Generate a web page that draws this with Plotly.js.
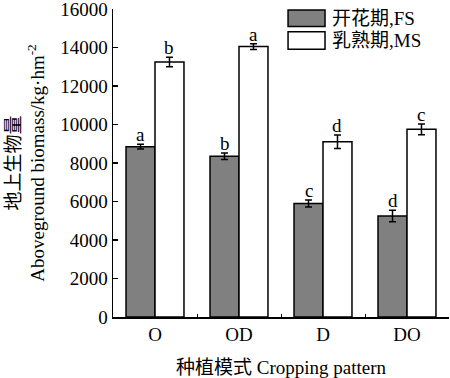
<!DOCTYPE html>
<html>
<head>
<meta charset="utf-8">
<script src="https://cdn.plot.ly/plotly-3.0.1.min.js"></script>
<style>body{margin:0;padding:0;background:#fff}#chart{width:450px;height:378px}</style>
</head>
<body>
<div id="chart"></div>
<script>
var categories = ["O", "OD", "D", "DO"];
var fsName = "开花期,FS";
var msName = "乳熟期,MS";
var fsValues = [8850, 8350, 5900, 5250];
var fsErrors = [120, 170, 180, 300];
var msValues = [13250, 14050, 9100, 9750];
var msErrors = [250, 150, 350, 280];
var fsLetters = ["a", "b", "c", "d"];
var msLetters = ["b", "a", "d", "c"];
var yTicks = [0, 2000, 4000, 6000, 8000, 10000, 12000, 14000, 16000];

var FONT = "'Liberation Serif','Times New Roman','Noto Sans CJK SC',serif";
var bargap = 0.31;
var off = (1 - bargap) / 4;

var traces = [
  {type: "bar", name: fsName, x: categories, y: fsValues,
   marker: {color: "#808080", line: {color: "#000", width: 1.5}},
   error_y: {type: "data", array: fsErrors, visible: true, color: "#000", thickness: 1.5, width: 3.5}},
  {type: "bar", name: msName, x: categories, y: msValues,
   marker: {color: "#ffffff", line: {color: "#000", width: 1.5}},
   error_y: {type: "data", array: msErrors, visible: true, color: "#000", thickness: 1.5, width: 3.5}}
];

var annotations = [];
categories.forEach(function (c, i) {
  annotations.push({x: i - off, y: fsValues[i] + fsErrors[i], xref: "x", yref: "y", text: fsLetters[i],
    showarrow: false, yanchor: "bottom", yshift: -3, font: {family: FONT, size: 19, color: "#000"}});
  annotations.push({x: i + off, y: msValues[i] + msErrors[i], xref: "x", yref: "y", text: msLetters[i],
    showarrow: false, yanchor: "bottom", yshift: -3, font: {family: FONT, size: 19, color: "#000"}});
});
// manual legend
var legendNames = [fsName, msName];
var legendColors = ["#808080", "#ffffff"];
var legendBoxes = [[0.943, 0.997], [0.869, 0.926]];
var shapes = [];
legendNames.forEach(function (n, k) {
  shapes.push({type: "rect", xref: "paper", yref: "paper", x0: 0.521, x1: 0.631,
    y0: legendBoxes[k][0], y1: legendBoxes[k][1], fillcolor: legendColors[k], line: {color: "#000", width: 1.5}});
  annotations.push({xref: "paper", yref: "paper", x: 0.645, y: (legendBoxes[k][0] + legendBoxes[k][1]) / 2,
    xanchor: "left", yanchor: "middle", showarrow: false, text: n, font: {family: FONT, size: 19, color: "#000"}});
});

var layout = {
  width: 450, height: 378,
  margin: {l: 113, r: 1, t: 9, b: 61},
  paper_bgcolor: "#fff", plot_bgcolor: "#fff",
  barmode: "group", bargap: bargap, bargroupgap: 0,
  showlegend: false,
  font: {family: FONT, size: 19, color: "#000"},
  xaxis: {
    type: "category", showline: true, linecolor: "#000", linewidth: 1.5,
    ticks: "inside", tickson: "boundaries", ticklen: 3, tickcolor: "#000", tickwidth: 1,
    showgrid: false, zeroline: false,
    tickfont: {family: FONT, size: 19, color: "#000"},
    title: {text: "种植模式 Cropping pattern", font: {family: FONT, size: 19, color: "#000"}, standoff: 18}
  },
  yaxis: {
    range: [0, 16000], tickvals: yTicks, ticktext: yTicks.map(String),
    ticklabeloverflow: "allow",
    showline: true, linecolor: "#000", linewidth: 1.5,
    ticks: "inside", ticklen: 5, tickcolor: "#000", tickwidth: 1.5,
    showgrid: false, zeroline: false,
    tickfont: {family: FONT, size: 19, color: "#000"},
    title: {text: "地上生物量<br>Aboveground biomass/kg·hm<sup>-2</sup>", font: {family: FONT, size: 19, color: "#000"}, standoff: 10}
  },
  shapes: shapes,
  annotations: annotations
};

Plotly.newPlot("chart", traces, layout, {staticPlot: true, displayModeBar: false});
</script>
</body>
</html>
